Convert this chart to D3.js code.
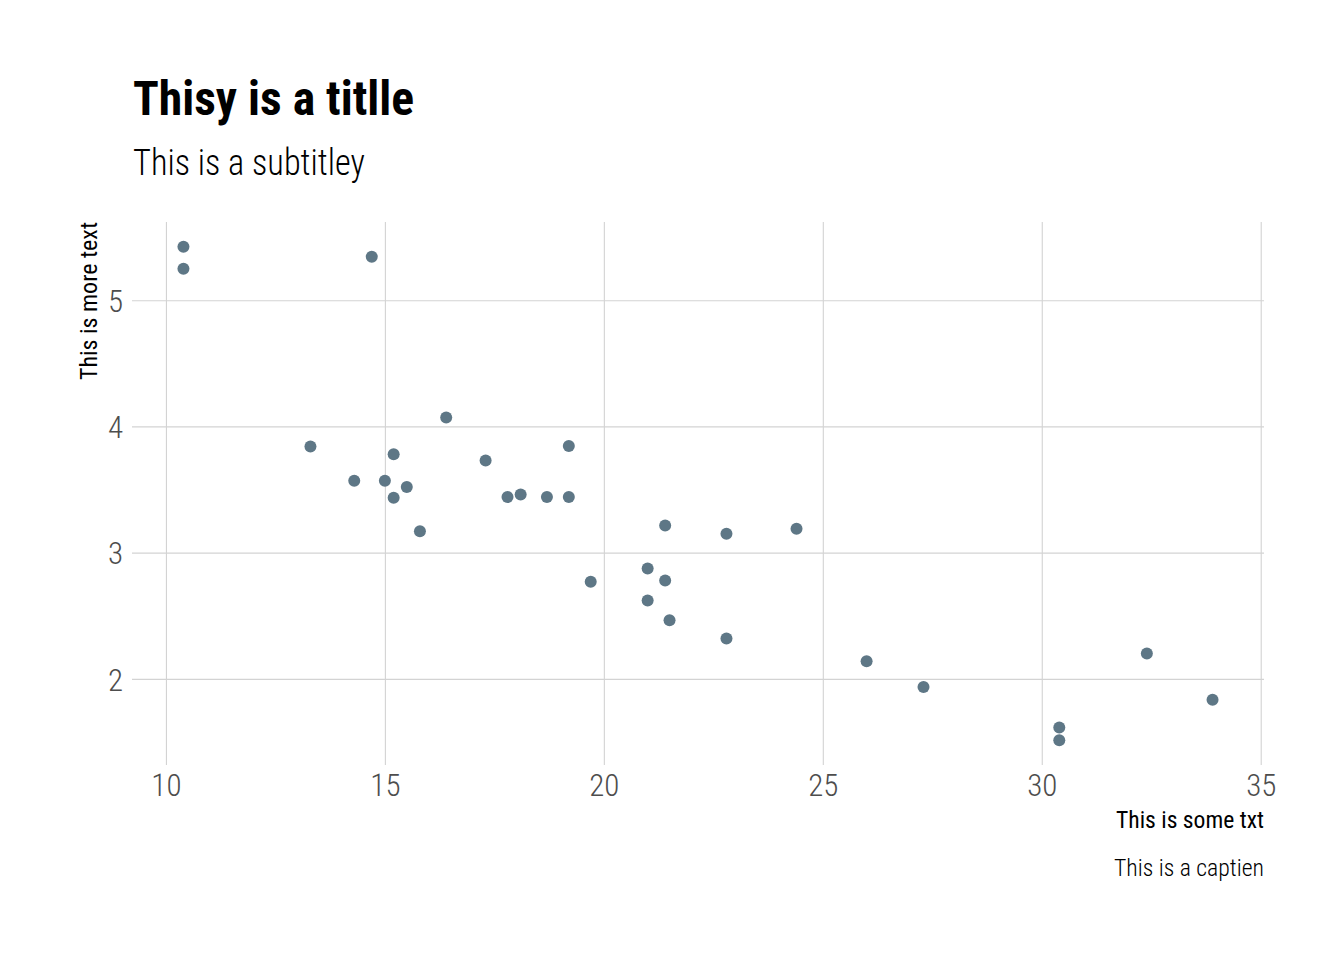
<!DOCTYPE html>
<html>
<head>
<meta charset="utf-8">
<script src="https://cdn.jsdelivr.net/npm/d3@7"></script>
<style>
  body { margin: 0; background: #fff; }
  text { font-family: "Roboto Condensed", Roboto, sans-serif; }
</style>
</head>
<body>
<script>
var w = 1344;
var h = 960;

// mtcars: mpg vs wt
var mpg = [21.0, 21.0, 22.8, 21.4, 18.7, 18.1, 14.3, 24.4, 22.8, 19.2, 17.8,
           16.4, 17.3, 15.2, 10.4, 10.4, 14.7, 32.4, 30.4, 33.9, 21.5, 15.5,
           15.2, 13.3, 19.2, 27.3, 26.0, 30.4, 15.8, 19.7, 15.0, 21.4];
var wt = [2.620, 2.875, 2.320, 3.215, 3.440, 3.460, 3.570, 3.190, 3.150, 3.440, 3.440,
          4.070, 3.730, 3.780, 5.250, 5.424, 5.345, 2.200, 1.615, 1.835, 2.465, 3.520,
          3.435, 3.840, 3.845, 1.935, 2.140, 1.513, 3.170, 2.770, 3.570, 2.780];
var xTicks = [10, 15, 20, 25, 30, 35];
var yTicks = [2, 3, 4, 5];

var pLeft = 132, pRight = 1264, pTop = 222, pBottom = 765;

var svg = d3.select("body")
  .append("svg")
  .attr("width", w)
  .attr("height", h);

// ggplot style 5% expansion
var xr = d3.extent(mpg), yr = d3.extent(wt);
var xpad = (xr[1] - xr[0]) * 0.05, ypad = (yr[1] - yr[0]) * 0.05;

var x = d3.scaleLinear().domain([xr[0] - xpad, xr[1] + xpad]).range([pLeft, pRight]);
var y = d3.scaleLinear().domain([yr[0] - ypad, yr[1] + ypad]).range([pBottom, pTop]);

// grid
var gx = svg.append("g")
  .attr("transform", "translate(0," + pBottom + ")")
  .call(d3.axisBottom(x).tickValues(xTicks).tickFormat(d3.format("d")).tickSize(-(pBottom - pTop)));
var gy = svg.append("g")
  .attr("transform", "translate(" + pLeft + ",0)")
  .call(d3.axisLeft(y).tickValues(yTicks).tickFormat(d3.format("d")).tickSize(-(pRight - pLeft)));

[gx, gy].forEach(function(g) {
  g.select(".domain").remove();
  g.selectAll(".tick line").attr("stroke", "#d3d3d3").attr("stroke-width", 1.1);
  g.selectAll(".tick text")
    .attr("fill", "#4d4d4d")
    .style("font-size", "31px")
    .style("font-weight", 300);
});
gx.selectAll(".tick text").attr("y", 31).attr("dy", 0);
gy.selectAll(".tick text").attr("x", -9).attr("dy", "0.36em");

// points
svg.append("g")
  .selectAll("circle")
  .data(mpg)
  .enter()
  .append("circle")
  .attr("cx", function(d) { return x(d); })
  .attr("cy", function(d, i) { return y(wt[i]); })
  .attr("r", 6)
  .attr("fill", "#5e7786");

// titles
svg.append("text")
  .attr("x", 133).attr("y", 115)
  .style("font-size", "48px").style("font-weight", 700)
  .attr("textLength", 281).attr("lengthAdjust", "spacingAndGlyphs")
  .text("Thisy is a titlle");

svg.append("text")
  .attr("x", 133).attr("y", 175)
  .style("font-size", "37px").style("font-weight", 300)
  .attr("textLength", 232).attr("lengthAdjust", "spacingAndGlyphs")
  .text("This is a subtitley");

svg.append("text")
  .attr("text-anchor", "end")
  .attr("transform", "translate(97," + pTop + ") rotate(-90)")
  .style("font-size", "24px")
  .attr("textLength", 158).attr("lengthAdjust", "spacingAndGlyphs")
  .text("This is more text");

svg.append("text")
  .attr("text-anchor", "end")
  .attr("x", pRight).attr("y", 828)
  .style("font-size", "24px")
  .attr("textLength", 148).attr("lengthAdjust", "spacingAndGlyphs")
  .text("This is some txt");

svg.append("text")
  .attr("text-anchor", "end")
  .attr("x", pRight).attr("y", 876)
  .style("font-size", "24px").style("font-weight", 300)
  .attr("textLength", 150).attr("lengthAdjust", "spacingAndGlyphs")
  .text("This is a captien");
</script>
</body>
</html>
